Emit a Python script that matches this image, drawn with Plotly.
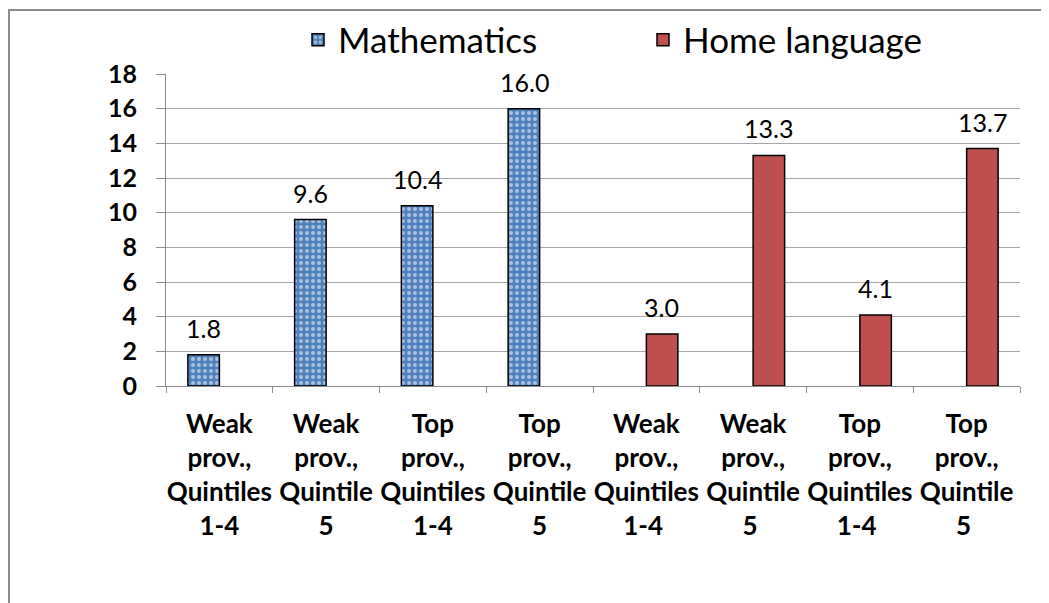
import plotly.graph_objects as go

categories = ["Weak<br>prov.,<br>Quintiles<br>1-4", "Weak<br>prov.,<br>Quintile<br>5",
              "Top<br>prov.,<br>Quintiles<br>1-4", "Top<br>prov.,<br>Quintile<br>5",
              "Weak<br>prov.,<br>Quintiles<br>1-4 ", "Weak<br>prov.,<br>Quintile<br>5 ",
              "Top<br>prov.,<br>Quintiles<br>1-4 ", "Top<br>prov.,<br>Quintile<br>5 "]
math_values = [1.8, 9.6, 10.4, 16.0, None, None, None, None]
home_values = [None, None, None, None, 3.0, 13.3, 4.1, 13.7]
y_ticks = [0, 2, 4, 6, 8, 10, 12, 14, 16, 18]

OFF = 8  # page body margin
W, H = 1049 - OFF, 603 - OFF
ML, MT = 166 - OFF, 74 - OFF
MR = W - (1020 - OFF)
MB = H - (386 - OFF)
PW, PH = W - ML - MR, H - MT - MB

def px_x(p):
    return (p - OFF - ML) / PW

def px_y(p):
    return 1 - (p - OFF - MT) / PH

FONT = "Lato"

fig = go.Figure()
fig.add_trace(go.Bar(
    x=categories, y=math_values, name="Mathematics",
    marker=dict(color="#4F81BD", line=dict(color="black", width=1.5),
                pattern=dict(shape=".", fgcolor="white", bgcolor="#4F81BD", size=6, solidity=0.35)),
))
fig.add_trace(go.Bar(
    x=categories, y=home_values, name="Home language",
    marker=dict(color="#C0504D", line=dict(color="black", width=1.5)),
))

annotations = []
for cat, v in zip(categories, math_values):
    if v is not None:
        annotations.append(dict(x=cat, y=v, text=f"{v:.1f}", showarrow=False, xshift=-15.5,
                                yanchor="bottom", yshift=10, font=dict(family=FONT, size=25, color="black")))
for cat, v in zip(categories, home_values):
    if v is not None:
        annotations.append(dict(x=cat, y=v, text=f"{v:.1f}", showarrow=False, xshift=15.5,
                                yanchor="bottom", yshift=10, font=dict(family=FONT, size=25, color="black")))

fig.update_layout(
    width=W, height=H,
    margin=dict(l=ML, r=MR, t=MT, b=MB, autoexpand=False),
    paper_bgcolor="white", plot_bgcolor="white",
    barmode="group", bargap=0.41, bargroupgap=0,
    font=dict(family=FONT, color="black"),
    annotations=annotations,
    legend=dict(orientation="h", x=px_x(298), xanchor="left",
                yref="container", y=1 - (40 - OFF) / H, yanchor="middle",
                font=dict(family=FONT, size=35, color="black"),
                entrywidth=300, entrywidthmode="pixels", bgcolor="rgba(0,0,0,0)"),
    shapes=[dict(type="rect", xref="paper", yref="paper",
                 x0=px_x(9), x1=px_x(1070), y0=px_y(10), y1=px_y(640),
                 line=dict(color="#8C8C8C", width=2), layer="below")],
    showlegend=True,
)
fig.update_xaxes(
    type="category", showgrid=False, showline=True, linecolor="#8C8C8C", linewidth=1,
    ticks="outside", tickson="boundaries", ticklen=6, tickcolor="#8C8C8C",
    tickfont=dict(family=FONT, size=26, color="black", weight="bold"),
    ticklabelstandoff=15, tickangle=0,
)
fig.update_yaxes(
    range=[0, 18], tickvals=y_ticks, showgrid=True, gridcolor="#A6A6A6", gridwidth=1,
    showline=True, linecolor="#8C8C8C", linewidth=1, ticks="outside", ticklen=9,
    tickcolor="#8C8C8C", tickfont=dict(family=FONT, size=25, color="black", weight="bold"),
    ticklabelstandoff=14, zeroline=False,
)

fig.write_html("out.html")
